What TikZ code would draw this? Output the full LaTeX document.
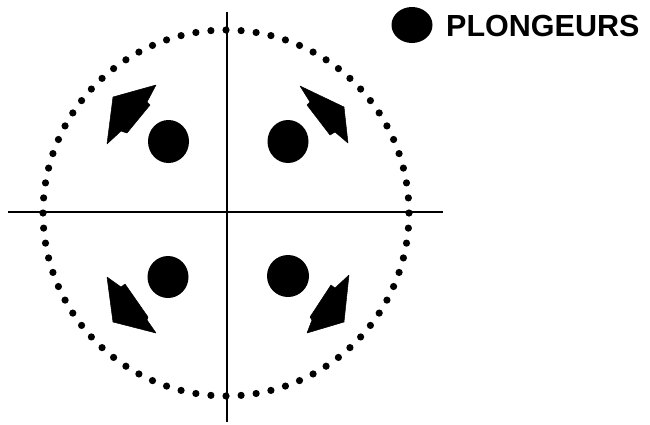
\documentclass[tikz,border=0pt]{standalone}
\usepackage{fontspec}
\setmainfont{Liberation Sans}
\begin{document}
\begin{tikzpicture}[x=1pt,y=-1pt,
  axis/.style={line width=1.8pt,black},
  diver/.style={fill=black},
  arrowshape/.style={fill=black,draw=black,line width=0.5pt,line join=round}]
\useasboundingbox (0,0) rectangle (650,424);
% axes
\coordinate (hl) at (8,212);
\coordinate (hr) at (443,212);
\coordinate (vt) at (227,12);
\coordinate (vb) at (227,422);
\draw[axis] (hl) -- (hr);
\draw[axis] (vt) -- (vb);
% dotted circle
\foreach \i in {0,...,75}
  \fill ({226+183*cos(\i*4.736842)},{213+183*sin(\i*4.736842)}) circle[radius=3.6pt];
% divers
\fill[diver] (168.5,141.5) ellipse[x radius=20.5pt,y radius=21.5pt];
\fill[diver] (288,141.5) ellipse[x radius=20.5pt,y radius=21.5pt];
\fill[diver] (168,277) ellipse[x radius=20.5pt,y radius=21pt];
\fill[diver] (288,276) ellipse[x radius=21pt,y radius=21pt];
% arrows
\filldraw[arrowshape] (113,97) -- (156,85) -- (147,102) -- (150,105) -- (127,133) -- (121,131) -- (107,144) -- cycle;
\filldraw[arrowshape] (300,86) -- (344,107) -- (348,143) -- (335,132) -- (330,135) -- (307,105) -- (310,102) -- cycle;
\filldraw[arrowshape] (107,277) -- (121,287) -- (125,284) -- (148,317) -- (147,320) -- (156,333) -- (113,322) -- cycle;
\filldraw[arrowshape] (349,275) -- (344,322) -- (307,333) -- (312,320) -- (310,317) -- (331,285) -- (335,288) -- cycle;
% legend
\fill[diver] (412,25) ellipse[x radius=20.5pt,y radius=18pt];
\node[anchor=base west,inner sep=0pt,font=\fontsize{30.5pt}{30.5pt}\selectfont\bfseries] (legend) at (446,36.5) {PLONGEURS};
\end{tikzpicture}
\end{document}
